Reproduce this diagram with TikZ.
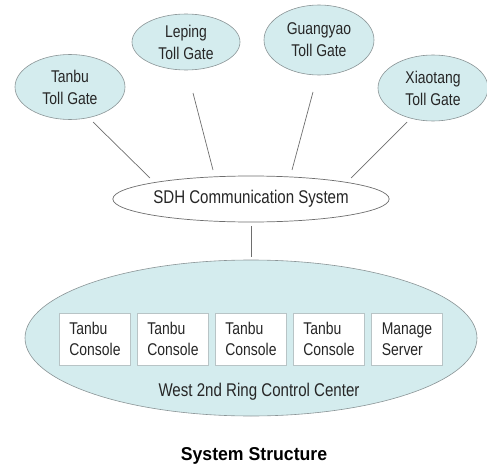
\documentclass[tikz,border=0pt]{standalone}
\usepackage{fontspec}
\setmainfont{Liberation Sans}[FakeStretch=0.82]
\newfontfamily\titlefont{Liberation Sans}[FakeStretch=0.95]
\usetikzlibrary{shapes.geometric}
\definecolor{gatefill}{HTML}{D4ECEE}
\definecolor{edgegray}{HTML}{8A9496}
\definecolor{linegray}{HTML}{6E6E6E}
\definecolor{boxgray}{HTML}{B8C4C6}
\tikzset{
  gate/.style={ellipse, draw=edgegray, fill=gatefill, line width=0.6pt, inner sep=0pt, align=center,
    font=\fontsize{17}{22}\selectfont, text=black!85},
  conn/.style={draw=linegray, line width=0.7pt},
  consolebox/.style={draw=boxgray, fill=white, minimum width=71pt, minimum height=52pt, inner sep=0pt,
    align=left, font=\fontsize{17}{21}\selectfont, text=black!85},
  bigtext/.style={font=\fontsize{18.4}{22}\selectfont, text=black!85, inner sep=0pt}
}
\begin{document}
\begin{tikzpicture}[x=1pt,y=-1pt]
\useasboundingbox (0,0) rectangle (487,468);
% toll gates
\node[gate, minimum width=110pt, minimum height=65pt] (tanbu) at (70,87) {Tanbu\\Toll Gate};
\node[gate, minimum width=108pt, minimum height=56pt] (leping) at (186,42) {Leping\\Toll Gate};
\node[gate, minimum width=110pt, minimum height=70pt] (guang) at (319,40) {Guangyao\\Toll Gate};
\node[gate, minimum width=110pt, minimum height=66pt] (xiao) at (433,88) {Xiaotang\\Toll Gate};
% SDH
\node[ellipse, draw=linegray, fill=white, line width=0.7pt, minimum width=262pt, minimum height=46pt, inner sep=0pt,
  font=\fontsize{18.4}{22}\selectfont, text=black!85] (sdh) at (251,199) {SDH Communication System};
% control center
\node[ellipse, draw=edgegray, fill=gatefill, line width=0.6pt, minimum width=452pt, minimum height=156pt, inner sep=0pt] (center) at (251,338) {};
\coordinate (l1a) at (93,122); \coordinate (l1b) at (150,178);
\coordinate (l2a) at (193,93); \coordinate (l2b) at (213,170);
\coordinate (l3a) at (313,92); \coordinate (l3b) at (292,170);
\coordinate (l4a) at (407,122); \coordinate (l4b) at (351,178);
\coordinate (l5a) at (251,226); \coordinate (l5b) at (251,257);
\draw[conn] (l1a) -- (l1b);
\draw[conn] (l2a) -- (l2b);
\draw[conn] (l3a) -- (l3b);
\draw[conn] (l4a) -- (l4b);
\draw[conn] (l5a) -- (l5b);
% consoles
\node[consolebox] (c1) at (95,339) {Tanbu\\Console};
\node[consolebox] (c2) at (173,339) {Tanbu\\Console};
\node[consolebox] (c3) at (251,339) {Tanbu\\Console};
\node[consolebox] (c4) at (329,339) {Tanbu\\Console};
\node[consolebox] (c5) at (407,339) {Manage\\Server};
\node[bigtext] (west) at (259,392) {West 2nd Ring Control Center};
\node[font=\titlefont\bfseries\fontsize{18.6}{22}\selectfont, inner sep=0pt] (title) at (254,456) {System Structure};
\end{tikzpicture}
\end{document}
